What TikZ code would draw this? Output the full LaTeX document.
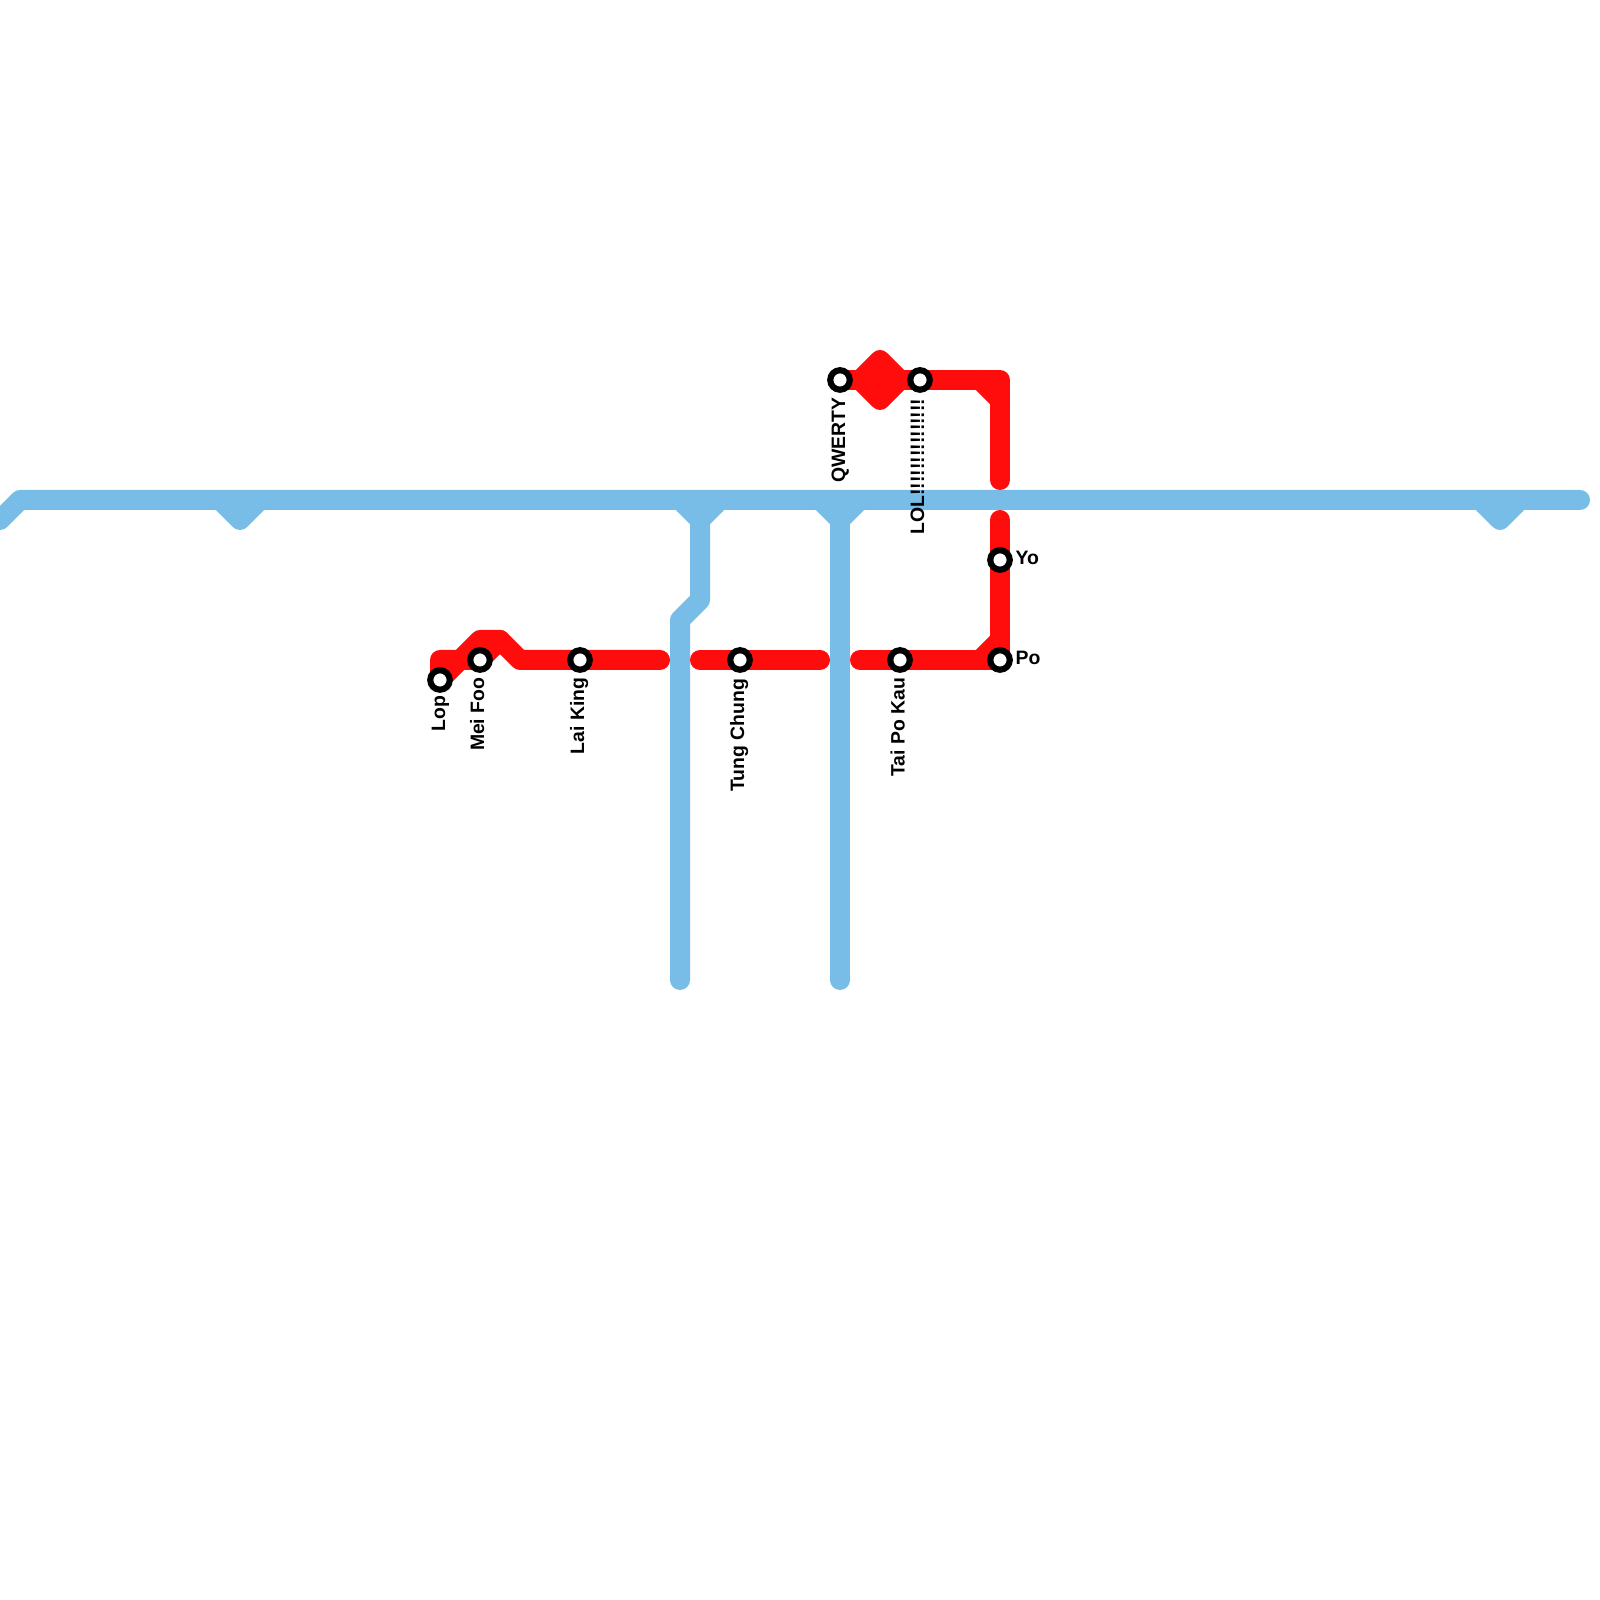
\documentclass[tikz,border=0pt]{standalone}
\usepackage{fontspec}
\setmainfont{Liberation Sans}
\definecolor{mtrred}{RGB}{255,13,13}
\definecolor{mtrblue}{RGB}{120,188,232}
\usetikzlibrary{backgrounds}

\begin{document}
\begin{tikzpicture}[
  every node/.style={font=\fontsize{5.52}{6.6}\selectfont\bfseries},
  stn/.style={draw=black,fill=white,circle,line width=1.75pt,inner sep=0pt,minimum size=0.195cm},
  stnlabel/.style={rotate=90,anchor=base east,inner sep=0pt},
  sidelabel/.style={anchor=west,inner sep=0pt},
  redline/.style={draw=mtrred,line width=0.2cm,line cap=round,line join=round},
  blueline/.style={draw=mtrblue,line width=0.2cm,line cap=round,line join=round},
]
  \useasboundingbox (0,0) rectangle (16,16);

  % Stations
  \node[stn] (lop) at (4.4, 9.2) {};
  \node[stn] (meifoo) at (4.8, 9.4) {};
  \node[stn] (laiking) at (5.8, 9.4) {};
  \node[stn] (tungchung) at (7.4, 9.4) {};
  \node[stn] (taipokau) at (9.0, 9.4) {};
  \node[stn] (po) at (10.0, 9.4) {};
  \node[stn] (yo) at (10.0, 10.4) {};
  \node[stn] (qwerty) at (8.4, 12.2) {};
  \node[stn] (lol) at (9.2, 12.2) {};

  % Station labels
  \node[stnlabel] (lop-l) at (4.45, 9.05) {Lop};
  \node[stnlabel] (meifoo-l) at (4.842, 9.23) {Mei Foo};
  \node[stnlabel] (laiking-l) at (5.842, 9.23) {Lai King};
  \node[stnlabel] (tungchung-l) at (7.442, 9.22) {Tung Chung};
  \node[stnlabel] (taipokau-l) at (9.045, 9.23) {Tai Po Kau};
  \node[stnlabel] (qwerty-l) at (8.45, 12.03) {QWERTY};
  \node[stnlabel] (lol-l) at (9.242, 12.02) {LOL!!!!!!!!!!!!!!!};
  \node[sidelabel] (yo-l) at (10.15, 10.42) {Yo};
  \node[sidelabel] (po-l) at (10.15, 9.42) {Po};

  % Free line ends
  \coordinate (redwest) at (6.6, 9.4);
  \coordinate (redmid1) at (7.0, 9.4);
  \coordinate (redmid2) at (8.2, 9.4);
  \coordinate (redeast) at (8.6, 9.4);
  \coordinate (redgap1) at (10.0, 10.8);
  \coordinate (redgap2) at (10.0, 11.2);
  \coordinate (bluew) at (0.0, 10.8);
  \coordinate (bluee) at (15.8, 11.0);
  \coordinate (blues1) at (6.8, 6.2);
  \coordinate (blues2) at (8.4, 6.2);

  \begin{scope}[on background layer]
    \fill[white] (0,0) rectangle (16,16);

    % Blue lines
    \draw[blueline] (bluew) -- ++(0.2,0.2) -- (bluee);
    \draw[blueline] (2.2,11) -- ++(0.2,-0.2) -- ++(0.2,0.2);
    \draw[blueline] (14.8,11) -- ++(0.2,-0.2) -- ++(0.2,0.2);
    \draw[blueline] (6.8,11) -- ++(0.2,-0.2) -- ++(0.2,0.2);
    \draw[blueline] (8.2,11) -- ++(0.2,-0.2) -- ++(0.2,0.2);
    \draw[blueline] (7.0,10.8) -- (7.0,10.0) -- (6.8,9.8) -- (blues1);
    \draw[blueline] (8.4,10.8) -- (blues2);

    % Red lines, west part
    \draw[redline] (lop.center) -- ++(0,0.2) -- ++(0.2,0) -- ++(0.2,0.2) -- ++(0.2,0) -- ++(0.2,-0.2) -- (laiking.center) -- (redwest);
    \draw[redline] (lop.center) -- ++(0.2,0.2) -- (meifoo.center) -- ++(0.2,0.2);
    \draw[redline] (redmid1) -- (tungchung.center) -- (redmid2);

    % Red lines, east part
    \draw[redline] (redeast) -- (taipokau.center) -- (po.center) -- (yo.center) -- (redgap1);
    \draw[redline] (9.8,9.4) -- (10.0,9.6);
    \draw[redline] (qwerty.center) -- (lol.center) -- (10.0,12.2) -- (redgap2);
    \draw[redline] (9.8,12.2) -- (10.0,12.0);
    \draw[redline] (8.6,12.2) -- ++(0.2,0.2) -- ++(0.2,-0.2) -- ++(-0.2,-0.2) -- cycle;
  \end{scope}
\end{tikzpicture}
\end{document}
